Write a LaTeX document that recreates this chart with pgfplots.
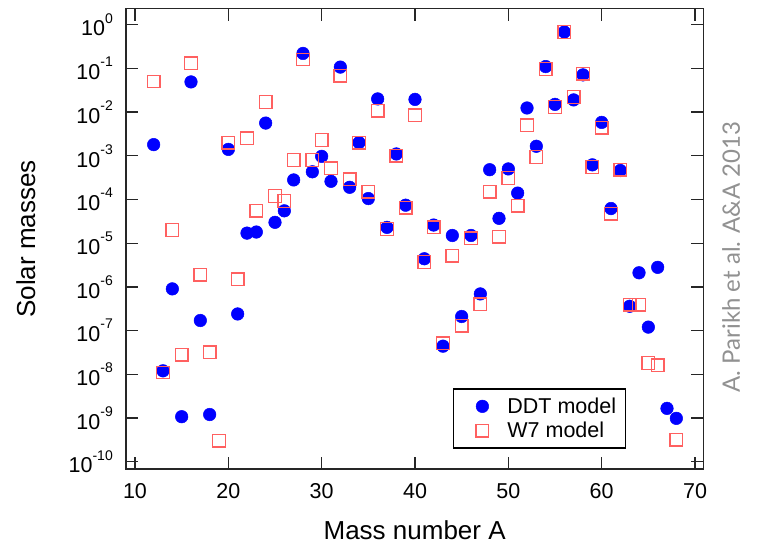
\documentclass[border=0pt]{standalone}
\usepackage{pgfplots}
\usepackage{pgfplotstable}
\pgfplotsset{compat=1.18}
\usepackage{fontspec}
\setmainfont{Liberation Sans}
\newfontfamily\credfont{Lato}
\definecolor{ddtblue}{RGB}{0,0,255}
\definecolor{w7red}{RGB}{255,96,96}
\definecolor{credgray}{RGB}{145,145,145}
\newcommand{\ex}[1]{\raisebox{0.6em}{\fontsize{14}{14}\selectfont #1}}
\pgfplotstableread{
A m
12 1.8e-3
13 1.2e-8
14 9e-7
15 1.07e-9
16 0.049
17 1.7e-7
18 1.2e-9
20 1.4e-3
21 2.4e-7
22 1.7e-5
23 1.8e-5
24 5.6e-3
25 3e-5
26 5.5e-5
27 2.8e-4
28 0.22
29 4.3e-4
30 9.7e-4
31 2.6e-4
32 0.107
33 1.9e-4
34 2.0e-3
35 1.05e-4
36 0.020
37 2.3e-5
38 1.1e-3
39 7.4e-5
40 0.0195
41 4.4e-6
42 2.6e-5
43 4.4e-8
44 1.5e-5
45 2.1e-7
46 1.5e-5
47 6.9e-7
48 4.8e-4
49 3.7e-5
50 5e-4
51 1.4e-4
52 0.0124
53 1.65e-3
54 0.11
55 0.015
56 0.68
57 0.019
58 0.071
59 6.2e-4
60 5.8e-3
61 6.2e-5
62 4.6e-4
63 3.6e-7
64 2.1e-6
65 1.2e-7
66 2.8e-6
67 1.66e-9
68 9.8e-10
}\ddt
\pgfplotstableread{
A m
12 0.05
13 1.1e-8
14 2e-5
15 2.8e-8
16 0.13
17 1.9e-6
18 3.2e-8
19 3e-10
20 2e-3
21 1.5e-6
22 2.5e-3
23 5.5e-5
24 0.017
25 1.2e-4
26 9.3e-5
27 8e-4
28 0.16
29 8e-4
30 2.3e-3
31 5.2e-4
32 0.068
33 2.9e-4
34 2.0e-3
35 1.5e-4
36 0.0107
37 2.1e-5
38 1.0e-3
39 6.5e-5
40 8.5e-3
41 3.7e-6
42 2.3e-5
43 5.1e-8
44 5.2e-6
45 1.3e-7
46 1.3e-5
47 4e-7
48 1.5e-4
49 1.4e-5
50 3.1e-4
51 7.2e-5
52 5e-3
53 9.4e-4
54 0.097
55 0.013
56 0.68
57 0.022
58 0.076
59 5.5e-4
60 4.4e-3
61 4.7e-5
62 4.8e-4
63 3.9e-7
64 3.9e-7
65 1.8e-8
66 1.6e-8
68 3.2e-10
}\wseven
\begin{document}
\begin{tikzpicture}
\useasboundingbox (0,0) rectangle (767pt,545pt);
\begin{axis}[
  at={(126pt,76pt)}, anchor=south west,
  scale only axis, width=577.3pt, height=460.3pt,
  ymode=log,
  xmin=9.036, xmax=70.89, ymin=6.8e-11, ymax=2.32,
  xtick={10,20,30,40,50,60,70},
  xticklabels={10,20,30,40,50,60,70},
  ytick={1e-10,1e-9,1e-8,1e-7,1e-6,1e-5,1e-4,1e-3,1e-2,1e-1,1},
  yticklabels={10\ex{-10},10\ex{-9},10\ex{-8},10\ex{-7},10\ex{-6},10\ex{-5},10\ex{-4},10\ex{-3},10\ex{-2},10\ex{-1},10\ex{0}},
  yminorticks=false, xminorticks=false,
  tick align=inside, major tick length=12pt,
  tick style={black!85, line width=1.3pt},
  axis line style={black!85, line width=1.5pt},
  ticklabel style={font=\fontsize{21.5}{24}\selectfont},
  xticklabel style={inner sep=0pt, yshift=-14pt},
  yticklabel style={inner sep=0pt, xshift=-13pt},
  xlabel={Mass number A},
  ylabel={Solar masses},
  label style={font=\fontsize{26}{28}\selectfont},
  xlabel style={at={(axis description cs:0.5,-0.1536)}, anchor=base},
  ylabel style={at={(axis description cs:-0.1576,0.5)}, anchor=base, rotate=0},
  legend style={at={(axis description cs:0.566,0.044)}, anchor=south west,
    draw=black, line width=1.3pt, fill=white,
    inner xsep=9.6pt, inner ysep=5.3pt, row sep=0pt, column sep=13pt,
    font=\fontsize{21.5}{24}\selectfont,
    nodes={inner sep=0pt}},
  legend cell align=left,
  legend image code/.code={\path[draw=none, fill=none] (0pt,-12.15pt) rectangle (31.4pt,12.15pt);
    \draw plot coordinates {(19.4pt,0pt)};},
]
\addplot[only marks, mark=*, mark size=6.3pt, draw=ddtblue, fill=ddtblue, line width=0.5pt] table[x=A,y=m] {\ddt};
\addlegendentry{DDT model}
\addplot[only marks, mark=square, mark size=6.3pt, draw=w7red, line width=1.3pt] table[x=A,y=m] {\wseven};
\addlegendentry{W7 model}
\end{axis}
\node[rotate=90, text=credgray, font=\credfont\fontsize{24}{24}\selectfont] at (731pt,288pt) {A. Parikh et al. A\&A 2013};
\end{tikzpicture}
\end{document}
